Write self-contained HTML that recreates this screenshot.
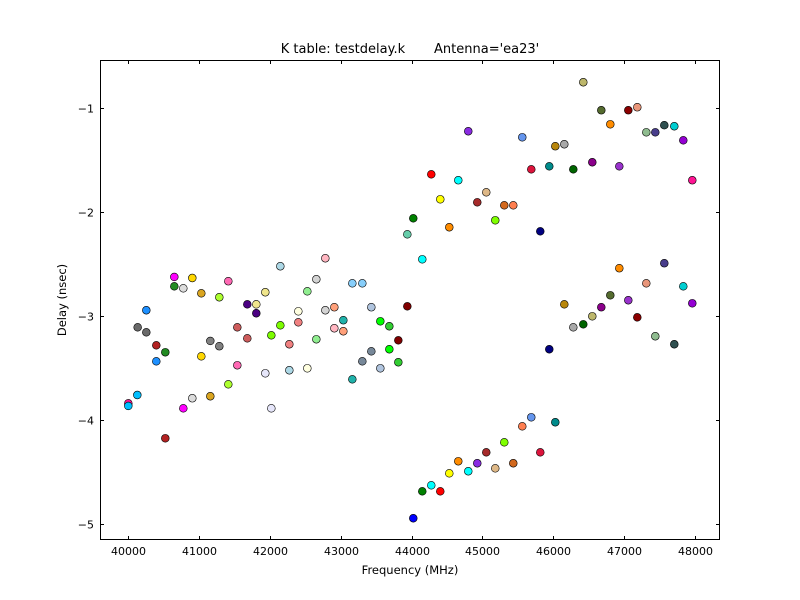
<!DOCTYPE html>
<html><head><meta charset="utf-8"><style>
body{margin:0;background:#fff;}
svg{display:block;font-family:"DejaVu Sans","Liberation Sans",sans-serif;}
</style></head><body>
<svg id="chart" width="800" height="600" viewBox="0 0 800 600">
<rect width="800" height="600" fill="#fff"/>
<text x="410" y="53" font-size="13" text-anchor="middle" xml:space="preserve">K table: testdelay.k       Antenna='ea23'</text>
<text x="410" y="574" font-size="11.5" text-anchor="middle">Frequency (MHz)</text>
<text x="0" y="0" font-size="11.5" text-anchor="middle" transform="translate(66,300) rotate(-90)">Delay (nsec)</text>
<g id="ticks"></g>
<g id="points"></g>
<rect x="100.5" y="60.5" width="619" height="479" fill="none" stroke="#000" stroke-width="1"/>
</svg>
<script>
const freq = [40003,40003,40130,40257,40135,40257,40398,40398,40525,40525,40652,40652,40779,40779,40906,40906,41033,41033,41160,41160,41287,41287,41414,41414,41541,41541,41682,41682,41809,41809,41936,41936,42021,42021,42148,42148,42275,42275,42402,42402,42529,42529,42656,42656,42783,42783,42910,42910,43037,43037,43164,43164,43305,43305,43432,43432,43559,43559,43686,43686,43813,43813,43940,43940,
44024,44151,44278,44405,44532,44659,44800,44927,45054,45181,45308,45435,45562,45689,45816,45943,46028,46155,46282,46423,46550,46677,46804,46931,47058,47185,47312,47439,47566,47707,47834,47961,
44024,44151,44278,44405,44532,44659,44800,44927,45054,45181,45308,45435,45562,45689,45816,45943,46028,46155,46282,46423,46550,46677,46804,46931,47058,47185,47312,47439,47566,47707,47834,47961];
const delay = [-3.837,-3.862,-3.757,-2.942,-3.106,-3.154,-3.279,-3.433,-3.346,-4.173,-2.622,-2.712,-2.731,-3.885,-2.632,-3.788,-2.779,-3.385,-3.237,-3.769,-2.817,-3.288,-2.663,-3.654,-3.106,-3.471,-2.885,-3.212,-2.885,-2.971,-2.769,-3.548,-3.885,-3.183,-2.519,-3.087,-3.269,-3.519,-2.952,-3.058,-2.760,-3.500,-2.644,-3.221,-2.442,-2.942,-2.913,-3.115,-3.038,-3.144,-2.683,-3.606,-2.683,-3.433,-2.913,-3.337,-3.048,-3.500,-3.096,-3.317,-3.231,-3.442,-2.904,-2.212,
-2.058,-2.452,-1.635,-1.875,-2.144,-1.692,-1.221,-1.904,-1.808,-2.077,-1.933,-1.933,-1.279,-1.587,-2.183,-1.558,-1.365,-1.346,-1.587,-0.750,-1.519,-1.019,-1.154,-1.558,-1.019,-0.990,-1.231,-1.231,-1.163,-1.173,-1.308,-1.692,
-4.942,-4.683,-4.625,-4.683,-4.510,-4.394,-4.490,-4.413,-4.308,-4.462,-4.212,-4.413,-4.058,-3.971,-4.308,-3.317,-4.019,-2.885,-3.106,-3.077,-3.000,-2.913,-2.798,-2.538,-2.846,-3.010,-2.683,-3.192,-2.490,-3.269,-2.712,-2.875];
const colors = ["deeppink","deepskyblue","deepskyblue","dodgerblue","dimgray","dimgray","firebrick","dodgerblue","forestgreen","firebrick","fuchsia","forestgreen","gainsboro","fuchsia","gold","gainsboro","goldenrod","gold","gray","goldenrod","greenyellow","gray","hotpink","greenyellow","indianred","hotpink","indigo","indianred","khaki","indigo","khaki","lavender","lavender","lawngreen","lightblue","lawngreen","lightcoral","lightblue","lightyellow","lightcoral","lightgreen","lightyellow","lightgray","lightgreen","lightpink","lightgray","lightsalmon","lightpink","lightseagreen","lightsalmon","lightskyblue","lightseagreen","lightskyblue","lightslategray","lightsteelblue","lightslategray","lime","lightsteelblue","limegreen","lime","maroon","limegreen","maroon","mediumaquamarine",
"green","cyan","red","yellow","darkorange","cyan","blueviolet","brown","burlywood","chartreuse","chocolate","coral","cornflowerblue","crimson","navy","darkcyan","darkgoldenrod","darkgray","darkgreen","darkkhaki","darkmagenta","darkolivegreen","darkorange","darkorchid","darkred","darksalmon","darkseagreen","darkslateblue","darkslategray","darkturquoise","darkviolet","deeppink",
"blue","green","cyan","red","yellow","darkorange","cyan","blueviolet","brown","burlywood","chartreuse","chocolate","coral","cornflowerblue","crimson","navy","darkcyan","darkgoldenrod","darkgray","darkgreen","darkkhaki","darkmagenta","darkolivegreen","darkorange","darkorchid","darkred","darksalmon","darkseagreen","darkslateblue","darkslategray","darkturquoise","darkviolet"];
const xTicks = [40000,41000,42000,43000,44000,45000,46000,47000,48000];
const yTicks = [-1,-2,-3,-4,-5];

const L=100,R=720,T=60,B=540;
const xMin=39603.5,xMax=48352,yMax=-0.536,yMin=-5.151;
function xs(v){return L+(v-xMin)/(xMax-xMin)*(R-L);}
function ys(v){return T+(yMax-v)/(yMax-yMin)*(B-T);}
const NS="http://www.w3.org/2000/svg";
const tg=document.getElementById('ticks');
function line(x1,y1,x2,y2){const l=document.createElementNS(NS,'line');l.setAttribute('x1',x1);l.setAttribute('y1',y1);l.setAttribute('x2',x2);l.setAttribute('y2',y2);l.setAttribute('stroke','#000');l.setAttribute('stroke-width','1');return l;}
xTicks.forEach(v=>{
  const x=Math.round(xs(v))+0.5;
  const a=line(x,B,x,B-4);
  
  
  tg.appendChild(a);
  const b=line(x,T,x,T+4);
  
  
  tg.appendChild(b);
  const t=document.createElementNS(NS,'text');
  
  
  t.setAttribute('x',x);t.setAttribute('y',B+15);t.setAttribute('font-size','11');t.setAttribute('text-anchor','middle');
  t.textContent=v;tg.appendChild(t);
});
yTicks.forEach(v=>{
  const y=Math.round(ys(v))+0.5;
  const a=line(L,y,L+4,y);
  
  
  tg.appendChild(a);
  const b=line(R,y,R-4,y);
  
  
  tg.appendChild(b);
  const t=document.createElementNS(NS,'text');
  
  
  t.setAttribute('x',L-6);t.setAttribute('y',y+4);t.setAttribute('font-size','11');t.setAttribute('text-anchor','end');
  t.textContent='\u2212'+Math.abs(v);tg.appendChild(t);
});
const pg=document.getElementById('points');
for(let i=0;i<freq.length;i++){
  const c=document.createElementNS(NS,'circle');
  
  
  c.setAttribute('cx',xs(freq[i]));c.setAttribute('cy',ys(delay[i]));c.setAttribute('r','3.9');
  c.setAttribute('fill',colors[i%colors.length]);c.setAttribute('stroke','#000');c.setAttribute('stroke-width','0.6');
  pg.appendChild(c);
}
</script>
</body></html>
